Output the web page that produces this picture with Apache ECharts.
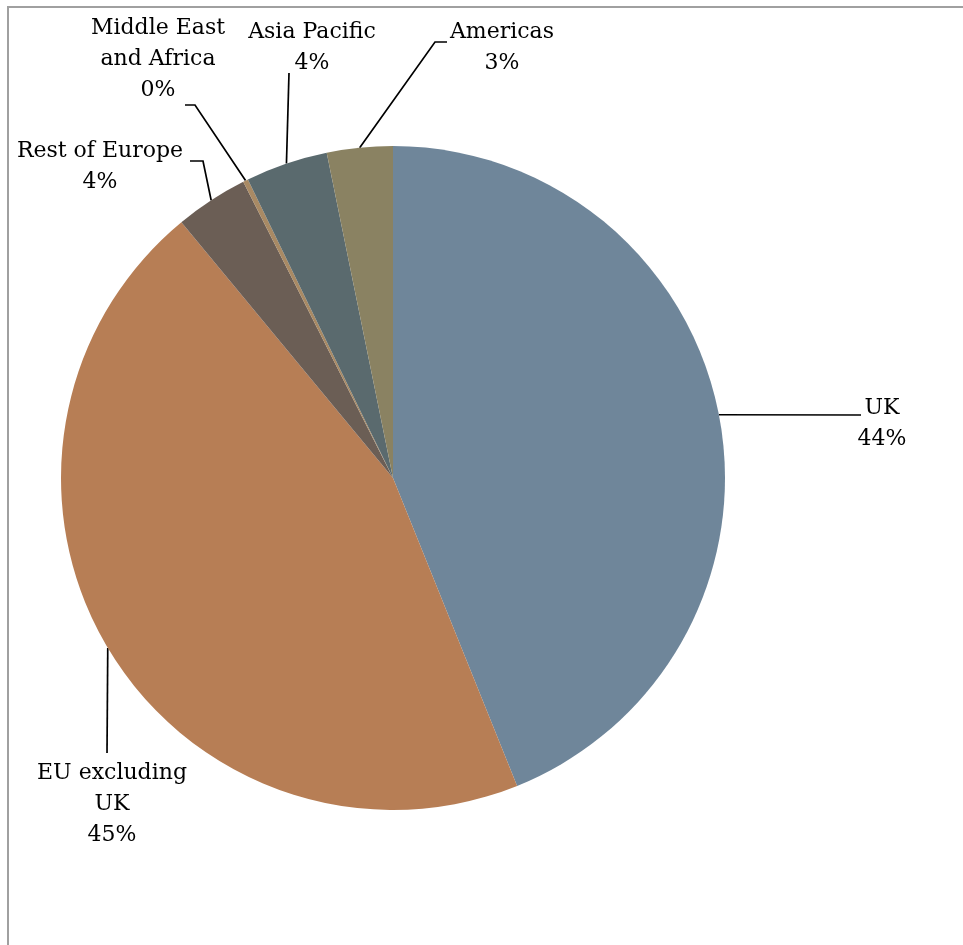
<!DOCTYPE html>
<html>
<head>
<meta charset="utf-8">
<script src="https://cdn.jsdelivr.net/npm/echarts@6/dist/echarts.min.js"></script>
<style>
html,body{margin:0;padding:0;background:#fff;}
#chart{width:963px;height:945px;}
</style>
</head>
<body>
<div id="chart"></div>
<script>
// Data
var categories = ["UK", "EU excluding\nUK", "Rest of Europe", "Middle East\nand Africa", "Asia Pacific", "Americas"];
var shares = [43.9, 45.1, 3.55, 0.25, 4.0, 3.2];
var colors = ["#6f869a", "#b77e55", "#6b5e55", "#a98a64", "#5a6a6e", "#8a8262"];

// Label placement (layout only): block centre and leader-line elbow/end offsets relative to it
var labelPos = [
  {x: 882, y: 424, elbow: [-21, -9], end: [-21, -9]},
  {x: 112, y: 804, elbow: [-5, -51], end: [-5, -51]},
  {x: 100, y: 167, elbow: [103, -6], end: [90, -6]},
  {x: 158, y: 59, elbow: [37, 46], end: [27, 46]},
  {x: 312, y: 48, elbow: [-23, 25], end: [-23, 25]},
  {x: 502, y: 48, elbow: [-67, -6], end: [-55, -6]}
];

var chart = echarts.init(document.getElementById('chart'), null, {renderer: 'canvas'});
var data = categories.map(function (c, i) {
  return {name: c, value: shares[i], itemStyle: {color: colors[i]}};
});

chart.setOption({
  animation: false,
  graphic: [{
    type: 'rect',
    shape: {x: 8, y: 7, width: 2000, height: 2000},
    style: {fill: 'none', stroke: '#a0a0a0', lineWidth: 2},
    silent: true,
    z: -1
  }],
  series: [{
    type: 'pie',
    center: [393, 478],
    radius: [0, 332],
    startAngle: 90,
    clockwise: true,
    avoidLabelOverlap: false,
    itemStyle: {borderWidth: 0},
    emphasis: {disabled: true},
    label: {
      show: true,
      position: 'outside',
      fontFamily: 'DejaVu Serif',
      fontSize: 22,
      lineHeight: 31,
      color: '#000',
      align: 'center',
      formatter: function (p) {
        return p.name + '\n' + Math.round(p.percent) + '%';
      }
    },
    labelLine: {
      show: true,
      length: 10,
      length2: 10,
      lineStyle: {color: '#000', width: 1.7}
    },
    labelLayout: function (params) {
      var lp = labelPos[params.dataIndex];
      var pts = params.labelLinePoints;
      var anchor = pts && pts[0] ? [pts[0][0], pts[0][1]] : [lp.x, lp.y];
      return {
        x: lp.x,
        y: lp.y,
        align: 'center',
        verticalAlign: 'middle',
        labelLinePoints: [
          anchor,
          [lp.x + lp.elbow[0], lp.y + lp.elbow[1]],
          [lp.x + lp.end[0], lp.y + lp.end[1]]
        ]
      };
    },
    data: data
  }]
});
</script>
</body>
</html>
